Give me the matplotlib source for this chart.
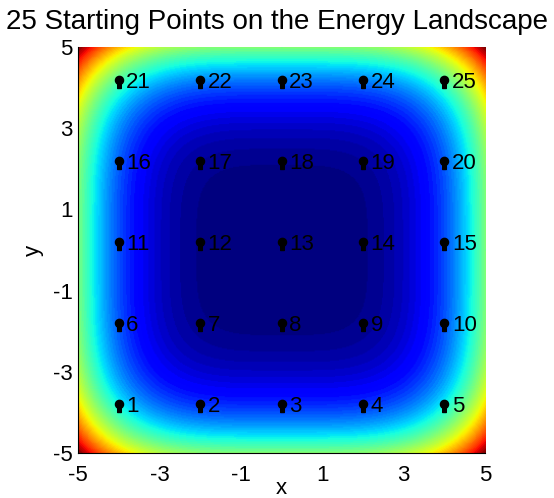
import numpy as np
import matplotlib.pyplot as plt
from matplotlib.path import Path
from matplotlib.transforms import Affine2D

plt.rcParams['font.family'] = ['Liberation Sans', 'DejaVu Sans']
plt.rcParams['axes.unicode_minus'] = False

# grid of starting positions (numbered row by row from the bottom)
start_x = [-4, -2, 0, 2, 4]
start_y = [-4, -2, 0, 2, 4]
x_ticks = [-5, -3, -1, 1, 3, 5]
y_ticks = [-5, -3, -1, 1, 3, 5]

# energy surface E(x, y) = x^4 + y^4 over the box [-5, 5]^2
grid = np.linspace(-5, 5, 400)
X, Y = np.meshgrid(grid, grid)
E = X**4 + Y**4

# pin-shaped marker: round head above, short stem whose tip sits on the point
head = Path.unit_circle().transformed(Affine2D().translate(0, 2.0))
stem = Path([(-0.45, 0.0), (0.45, 0.0), (0.45, 1.6), (-0.45, 1.6), (-0.45, 0.0)],
            [Path.MOVETO, Path.LINETO, Path.LINETO, Path.LINETO, Path.CLOSEPOLY])
pin = Path.make_compound_path(head, stem)

fig = plt.figure(figsize=(5.54, 4.98), dpi=100)
ax = fig.add_axes([0.1408, 0.0904, 0.7347, 0.8152])

ax.imshow(E, extent=[-5, 5, -5, 5], origin='lower', cmap=plt.get_cmap('jet', 64),
          interpolation='bilinear', aspect='auto')

n = 1
for yv in start_y:
    for xv in start_x:
        ax.plot(xv, yv, marker=pin, color='black', markersize=17.5, linestyle='none')
        ax.annotate(str(n), (xv, yv), xytext=(5.5, 0), textcoords='offset points',
                    ha='left', va='baseline', fontsize=16)
        n += 1

ax.set_xlim(-5, 5)
ax.set_ylim(-5, 5)
ax.set_xticks(x_ticks)
ax.set_yticks(y_ticks)
ax.tick_params(length=0, labelsize=16)
ax.tick_params(axis='x', pad=9)
ax.tick_params(axis='y', pad=4)
ax.spines['top'].set_visible(False)
ax.spines['right'].set_visible(False)
ax.set_xlabel('x', fontsize=16, labelpad=-6)
ax.set_ylabel('y', fontsize=16, labelpad=6)
fig.text(0.5, 0.955, '25 Starting Points on the Energy Landscape',
         ha='center', va='center', fontsize=20)

fig.savefig('out.png', dpi=100)
